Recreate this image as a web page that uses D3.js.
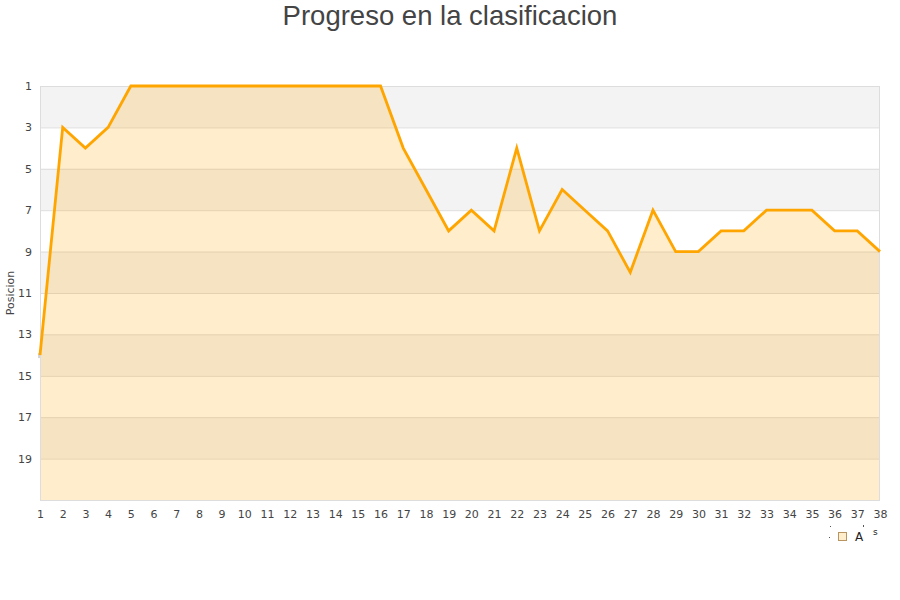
<!DOCTYPE html>
<html><head><meta charset="utf-8">
<script src="https://cdn.jsdelivr.net/npm/d3@7"></script>
<style>body{margin:0;background:#fff}svg{display:block}</style>
</head><body><svg id="c" width="900" height="600"></svg>
<script>
const rounds = d3.range(1, 39);
const positions = [14,3,4,3,1,1,1,1,1,1,1,1,1,1,1,1,4,6,8,7,8,4,8,6,7,8,10,7,9,9,8,8,7,7,7,8,8,9];
const yTicks = [1,3,5,7,9,11,13,15,17,19];
const bandStarts = [1,5,9,13,17];
const title = "Progreso en la clasificacion";
const yTitle = "Posicion";

const svg = d3.select("#c");
const L = 40, R = 880, T = 86, B = 500;
const x = d3.scaleLinear().domain([1, 38]).range([L, R]);
const y = d3.scaleLinear().domain([1, 21]).range([T, B]);

// bands
svg.append("g").selectAll("rect").data(bandStarts).join("rect")
  .attr("x", L).attr("width", R - L)
  .attr("y", d => y(d)).attr("height", d => y(d + 2) - y(d))
  .attr("fill", "#f3f3f3");
// grid
svg.append("g").selectAll("line").data(yTicks.concat([21])).join("line")
  .attr("x1", L).attr("x2", R).attr("y1", d => y(d) + 0.5).attr("y2", d => y(d) + 0.5)
  .attr("stroke", "#dddddd").attr("stroke-width", 1);

const data = rounds.map((r, i) => ({r, p: positions[i]}));
svg.append("path").datum(data)
  .attr("d", d3.area().x(d => x(d.r)).y0(y(21)).y1(d => y(d.p)))
  .attr("fill", "rgba(255,165,0,0.2)");
// border
svg.append("rect").attr("x", L + 0.5).attr("y", T + 0.5).attr("width", R - L - 1).attr("height", B - T)
  .attr("fill", "none").attr("stroke", "#dddddd");
svg.append("line").attr("x1", L - 1).attr("x2", L - 1).attr("y1", y(14) - 2).attr("y2", y(14) + 3).attr("stroke", "#aaa");
svg.append("path").datum(data)
  .attr("d", d3.line().x(d => x(d.r)).y(d => y(d.p)))
  .attr("fill", "none").attr("stroke", "#ffa500").attr("stroke-width", 2.8).attr("stroke-linejoin", "miter");

// axes text
const yAxis = svg.append("g").attr("transform", `translate(${L},0)`)
  .call(d3.axisLeft(y).tickValues(yTicks).tickSize(0).tickPadding(8));
yAxis.select(".domain").remove();
yAxis.selectAll("text").attr("font-family", "DejaVu Sans").attr("font-size", 11).attr("fill", "#444");

const xAxis = svg.append("g").attr("transform", `translate(0,${B})`)
  .call(d3.axisBottom(x).tickValues(rounds).tickFormat(d3.format("d")).tickSize(0).tickPadding(10));
xAxis.select(".domain").remove();
xAxis.selectAll("text").attr("font-family", "DejaVu Sans").attr("font-size", 11).attr("fill", "#444");

svg.append("text").attr("x", 450).attr("y", 25).attr("text-anchor", "middle")
  .attr("font-family", "Liberation Sans, Arial").attr("font-size", 27.5).attr("fill", "#444").text(title);
svg.append("text").attr("transform", "translate(14,293) rotate(-90)").attr("text-anchor", "middle")
  .attr("font-family", "DejaVu Sans").attr("font-size", 11).attr("fill", "#444").text(yTitle);

// legend (garbled as in original)
const lg = svg.append("g").attr("font-family", "DejaVu Sans").attr("fill", "#222");
lg.append("rect").attr("x", 838.5).attr("y", 532.5).attr("width", 8).attr("height", 8)
  .attr("fill", "#ffedcc").attr("stroke", "#b89560");
lg.append("text").attr("x", 855).attr("y", 541).attr("font-size", 12).text("A");
lg.append("text").attr("x", 873).attr("y", 535).attr("font-size", 9).text("s");
lg.append("rect").attr("x", 830).attr("y", 526).attr("width", 1).attr("height", 1).attr("fill", "#555");
lg.append("rect").attr("x", 829).attr("y", 537).attr("width", 1).attr("height", 1).attr("fill", "#555");
lg.append("rect").attr("x", 863).attr("y", 525).attr("width", 1).attr("height", 2).attr("fill", "#555");
</script></body></html>
